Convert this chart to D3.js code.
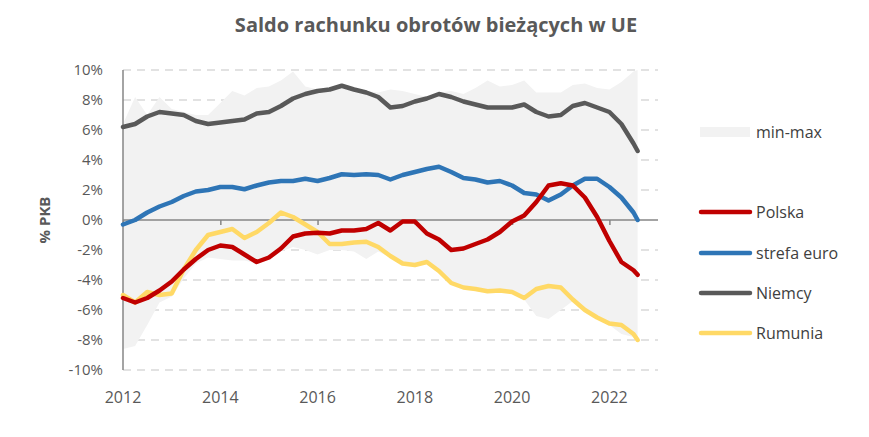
<!DOCTYPE html>
<html><head><meta charset="utf-8">
<script src="https://cdn.jsdelivr.net/npm/d3@7"></script>
<style>body{margin:0;background:#fff}svg{display:block}</style>
</head><body><svg id="c" width="869" height="437"></svg>
<script>
const dates = ["2012-01","2012-04","2012-07","2012-10","2013-01","2013-04","2013-07","2013-10",
"2014-01","2014-04","2014-07","2014-10","2015-01","2015-04","2015-07","2015-10",
"2016-01","2016-04","2016-07","2016-10","2017-01","2017-04","2017-07","2017-10",
"2018-01","2018-04","2018-07","2018-10","2019-01","2019-04","2019-07","2019-10",
"2020-01","2020-04","2020-07","2020-10","2021-01","2021-04","2021-07","2021-10",
"2022-01","2022-04","2022-07","2022-08"];
const bandMax = [6.4,8.2,7.0,8.2,7.4,7.2,7.0,7.0,7.8,8.6,8.3,8.8,8.9,9.3,9.9,8.9,8.7,8.8,9.0,8.8,8.6,8.5,8.7,8.6,8.4,8.2,8.5,8.6,8.4,8.8,9.3,8.9,9.0,9.3,8.5,8.5,8.5,9.0,9.1,8.8,8.7,9.2,9.9,10.0];
const bandMin = [-8.6,-8.4,-7.0,-5.5,-5.1,-3.9,-2.9,-2.5,-2.6,-2.7,-2.7,-2.9,-2.6,-2.1,-1.8,-2.0,-2.3,-2.0,-2.0,-2.1,-2.6,-2.1,-2.5,-3.0,-3.1,-2.9,-3.5,-4.2,-4.6,-4.7,-4.8,-4.8,-4.9,-5.3,-6.4,-6.6,-6.0,-5.4,-6.1,-6.6,-7.0,-7.6,-7.8,-8.1];
const polska = [-5.2,-5.5,-5.2,-4.7,-4.1,-3.3,-2.6,-2.0,-1.7,-1.8,-2.3,-2.8,-2.5,-1.9,-1.1,-0.9,-0.85,-0.9,-0.7,-0.7,-0.6,-0.2,-0.7,-0.1,-0.1,-0.9,-1.3,-2.0,-1.9,-1.6,-1.3,-0.8,-0.1,0.3,1.2,2.3,2.45,2.3,1.5,0.2,-1.4,-2.8,-3.35,-3.65];
const strefaEuro = [-0.3,0.0,0.5,0.9,1.2,1.6,1.9,2.0,2.2,2.2,2.05,2.3,2.5,2.6,2.6,2.75,2.6,2.8,3.05,3.0,3.05,3.0,2.7,3.0,3.2,3.4,3.55,3.2,2.8,2.7,2.5,2.6,2.3,1.8,1.7,1.3,1.7,2.3,2.75,2.75,2.2,1.5,0.5,0.0];
const niemcy = [6.2,6.4,6.9,7.2,7.1,7.0,6.6,6.4,6.5,6.6,6.7,7.1,7.2,7.6,8.1,8.4,8.6,8.7,8.95,8.7,8.5,8.2,7.5,7.6,7.9,8.1,8.4,8.2,7.9,7.7,7.5,7.5,7.5,7.7,7.2,6.9,7.0,7.6,7.8,7.5,7.2,6.4,5.1,4.6];
const rumunia = [-5.0,-5.5,-4.8,-5.0,-4.9,-3.3,-2.0,-1.0,-0.8,-0.6,-1.2,-0.8,-0.2,0.5,0.2,-0.3,-0.8,-1.6,-1.6,-1.5,-1.45,-1.8,-2.4,-2.9,-3.0,-2.8,-3.4,-4.2,-4.5,-4.6,-4.75,-4.7,-4.8,-5.2,-4.6,-4.4,-4.5,-5.3,-6.0,-6.5,-6.9,-7.0,-7.6,-8.0];
const yTicks = [10,8,6,4,2,0,-2,-4,-6,-8,-10];
const xTickYears = ["2012","2014","2016","2018","2020","2022"];
const seriesNames = ["Polska","strefa euro","Niemcy","Rumunia"];
const seriesColors = ["#C00000","#2E75B6","#595959","#FFD966"];
const title = "Saldo rachunku obrotów bieżących w UE";
const yTitle = "% PKB";
const bandLabel = "min-max";

const parse = d3.timeParse("%Y-%m");
const D = dates.map(parse);
const svg = d3.select("#c");
const font = "'Open Sans', sans-serif";
const x = d3.scaleTime().domain([parse("2012-01"), parse("2023-01")]).range([123, 658]);
const y = d3.scaleLinear().domain([-10, 10]).range([370, 70]);

svg.append("text").attr("x", 436).attr("y", 32).attr("text-anchor", "middle")
  .attr("font-family", font).attr("font-weight", "bold").attr("font-size", 20)
  .attr("fill", "#595959").text(title);

// gridlines
svg.append("g").selectAll("line").data(yTicks.filter(v => v !== 0)).join("line")
  .attr("x1", 123).attr("x2", 658).attr("y1", d => y(d)).attr("y2", d => y(d))
  .attr("stroke", "#d9d9d9").attr("stroke-width", 1.5).attr("stroke-dasharray", "8,6");

// band
const area = d3.area().x((d, i) => x(D[i])).y0((d, i) => y(bandMin[i])).y1(d => y(d));
svg.append("path").datum(bandMax).attr("d", area).attr("fill", "#f2f2f2");

// zero axis with ticks
const xAxis = d3.axisBottom(x).tickValues(xTickYears.map(s => d3.timeParse("%Y")(s)))
  .tickSize(5).tickFormat("");
svg.append("g").attr("transform", `translate(0,${y(0)})`).call(xAxis)
  .call(g => g.select(".domain").attr("stroke", "#868686").attr("stroke-width", 1.5).attr("d", `M123,0H658`))
  .call(g => g.selectAll(".tick line").attr("stroke", "#868686").attr("stroke-width", 1.5));

// left axis line
svg.append("line").attr("x1", 123).attr("x2", 123).attr("y1", 70).attr("y2", 370)
  .attr("stroke", "#868686").attr("stroke-width", 1.5);

// y labels
svg.append("g").selectAll("text").data(yTicks).join("text")
  .attr("x", 103).attr("y", d => y(d)).attr("dy", "0.35em").attr("text-anchor", "end")
  .attr("font-family", font).attr("font-size", 15).attr("fill", "#595959")
  .text(d => d + "%");

// x labels
svg.append("g").selectAll("text").data(xTickYears).join("text")
  .attr("x", d => x(d3.timeParse("%Y")(d))).attr("y", 397).attr("dy", "0.35em").attr("text-anchor", "middle")
  .attr("font-family", font).attr("font-size", 16).attr("fill", "#595959").text(d => d);

// y title
svg.append("text").attr("transform", "translate(50,220) rotate(-90)").attr("text-anchor", "middle")
  .attr("font-family", font).attr("font-weight", "bold").attr("font-size", 15).attr("fill", "#595959").text(yTitle);

// lines
const seriesData = [polska, strefaEuro, niemcy, rumunia];
const drawOrder = [3, 2, 1, 0];
const line = d3.line().x((d, i) => x(D[i])).y(d => y(d));
drawOrder.forEach(k => {
  svg.append("path").datum(seriesData[k]).attr("d", line).attr("fill", "none")
    .attr("stroke", seriesColors[k]).attr("stroke-width", 4.5).attr("stroke-linejoin", "round").attr("stroke-linecap", "round");
});

// legend
svg.append("rect").attr("x", 700).attr("y", 127).attr("width", 50).attr("height", 10).attr("fill", "#f2f2f2");
svg.append("text").attr("x", 756).attr("y", 132).attr("dy", "0.35em").attr("font-family", font)
  .attr("font-size", 16).attr("fill", "#404040").text(bandLabel);
const ly = [212, 253, 293, 333];
seriesNames.forEach((n, k) => {
  svg.append("line").attr("x1", 701).attr("x2", 750).attr("y1", ly[k]).attr("y2", ly[k])
    .attr("stroke", seriesColors[k]).attr("stroke-width", 4.5).attr("stroke-linecap", "round");
  svg.append("text").attr("x", 756).attr("y", ly[k]).attr("dy", "0.35em").attr("font-family", font)
    .attr("font-size", 16).attr("fill", "#404040").text(n);
});
</script></body></html>
